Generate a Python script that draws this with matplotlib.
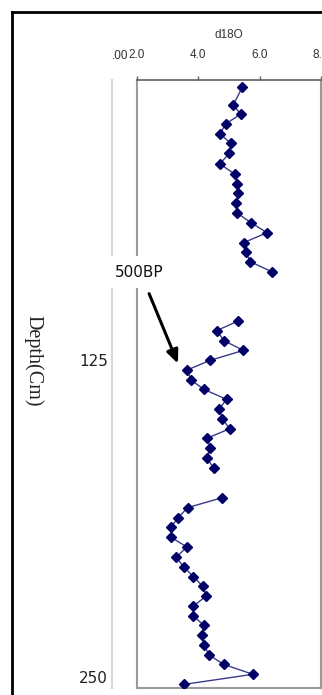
import numpy as np
import matplotlib
matplotlib.use("Agg")
import matplotlib.pyplot as plt
from matplotlib.lines import Line2D

# d18O profile (nan = missing sample, breaks the line)
depth_cm = [17.5, 24.4, 28.1, 31.9, 35.9, 39.6, 43.5, 47.7, 51.7, 55.6,
            59.3, 63.2, 66.9, 70.9, 74.8, 78.7, 82.4, 86.2, 90.3, 100.0,
            109.6, 113.4, 117.4, 121.2, 125.1, 128.9, 132.9, 136.6, 140.5, 144.3,
            148.1, 152.1, 155.8, 159.7, 163.6, 167.7, 173.0,
            179.3, 183.2, 187.2, 191.0, 194.9, 198.7, 202.7, 206.5, 210.4, 214.2,
            218.1, 222.0, 225.8, 229.6, 233.6, 237.3, 241.2, 245.0, 248.9, 252.9]
d18o = [5.43, 5.14, 5.38, 4.89, 4.71, 5.06, 5.01, 4.70, 5.19, 5.27,
        5.30, 5.23, 5.25, 5.72, 6.24, 5.48, 5.55, 5.69, 6.41, np.nan,
        5.30, 4.60, 4.84, 5.47, 4.39, 3.64, 3.76, 4.19, 4.92, 4.68,
        4.78, 5.02, 4.29, 4.39, 4.27, 4.51, np.nan,
        4.77, 3.65, 3.34, 3.10, 3.11, 3.63, 3.28, 3.52, 3.84, 4.14,
        4.25, 3.84, 3.83, 4.18, 4.11, 4.19, 4.34, 4.83, 5.78, 3.52]

x_ticks = [2, 4, 6, 8]
x_ticklabels = ["2.0", "4.0", "6.0", "8.0"]
depth_ticks = [125, 250]

W, H = 322, 695
fig = plt.figure(figsize=(W / 100, H / 100), dpi=100)

# axes box in pixels
left, right, top, bottom = 137, 321, 80, 688
ax = fig.add_axes([left / W, 1 - bottom / H, (right - left) / W, (bottom - top) / H])

ax.plot(d18o, depth_cm, color="#3a3a8c", lw=1.0, marker="D", ms=5,
        mfc="#000066", mec="#000066", zorder=3)

ax.set_xlim(2, 8)
ax.set_ylim(254.3, 14.6)
ax.xaxis.tick_top()
ax.xaxis.set_label_position("top")
ax.set_xticks(x_ticks)
ax.set_xticklabels(x_ticklabels)
ax.tick_params(axis="x", direction="out", length=3, width=1, color="#606060",
               labelsize=8.5, pad=10.5, labelcolor="#333333")
for lab in ax.get_xticklabels():
    lab.set_family("Liberation Sans")
ax.set_xlabel("d18O", family="Liberation Sans", fontsize=8.5, labelpad=8, color="#333333")
ax.set_yticks([])
for side in ["left", "bottom", "right"]:
    ax.spines[side].set_color("#9a9a9a")
    ax.spines[side].set_linewidth(1.5)
ax.spines["top"].set_color("#606060")
ax.spines["top"].set_linewidth(1.2)

# depth axis sitting left of the plot frame
sec = ax.secondary_yaxis(-25 / (right - left))
sec.set_yticks(depth_ticks)
sec.tick_params(length=0, labelsize=11, pad=3, labelcolor="#222222")
sec.spines["left"].set_color("#d9d9d9")
sec.spines["left"].set_linewidth(1.5)

# clipped label of the hidden axis
ax.annotate(".00", xy=(2.0, 1), xycoords=("data", "axes fraction"),
            xytext=(-6.5, 12.8), textcoords="offset points", ha="right", va="bottom",
            fontsize=8.5, family="Liberation Sans", color="#333333",
            annotation_clip=False)

# 500BP marker
ax.annotate("", xy=(3.37, 127.4), xytext=(2.36, 97.8),
            arrowprops=dict(arrowstyle="-|>,head_length=0.8,head_width=0.35",
                            color="black", lw=2.2), zorder=6, annotation_clip=False)
ax.text(2.07, 90.3, "500BP", ha="center", va="center", fontsize=11,
        family="DejaVu Sans", color="#111111", zorder=7, clip_on=False,
        bbox=dict(fc="white", ec="none", boxstyle="square,pad=0.55"))

fig.text(33 / W, 1 - 361 / H, "Depth(Cm)", rotation=270, ha="center", va="center",
         family="Liberation Serif", fontsize=14.5, color="#222222")

# outer frame (only left and top edges fall inside the picture)
fig.add_artist(Line2D([12 / W, 12 / W], [0, 1 - 12 / H], color="black", lw=2))
fig.add_artist(Line2D([12 / W, 1], [1 - 12 / H, 1 - 12 / H], color="black", lw=2))

fig.savefig("out.png", dpi=100)
